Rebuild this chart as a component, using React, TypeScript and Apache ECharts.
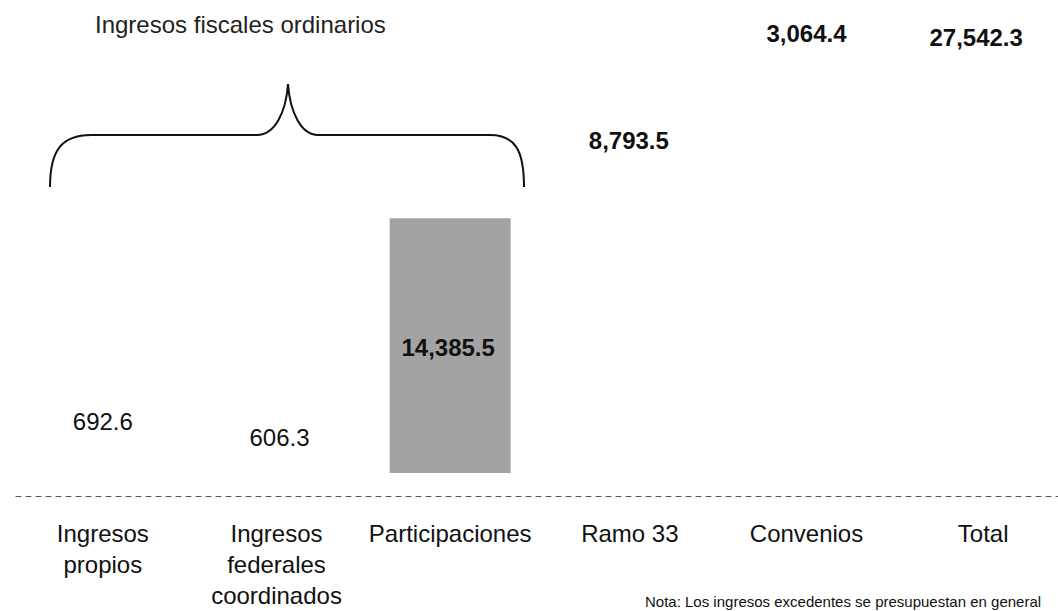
import React, { useEffect, useRef } from "react";
import * as echarts from "echarts";

const categories = [
  "Ingresos\npropios",
  "Ingresos\nfederales\ncoordinados",
  "Participaciones",
  "Ramo 33",
  "Convenios",
  "Total",
];
const values = [692.6, 606.3, 14385.5, 8793.5, 3064.4, 27542.3];
const isTotal = [false, false, false, false, false, true];
const valueLabels = ["692.6", "606.3", "14,385.5", "8,793.5", "3,064.4", "27,542.3"];
const titleText = "Ingresos fiscales ordinarios";
const noteText = "Nota: Los ingresos excedentes se presupuestan en general";

const BRACE_D =
  "M50,187 C50,150 62,135 91,135 L257,135 C275,135 286,112 288,84 C290,112 301,135 318,135 L490,135 C515,135 524,150 524,187";

let braceRegistered = false;

export default function App() {
  const ref = useRef<HTMLDivElement>(null);

  useEffect(() => {
    document.body.style.margin = "0";
    if (!braceRegistered) {
      echarts.graphic.registerShape("brace", echarts.graphic.extendPath(BRACE_D, {}) as any);
      braceRegistered = true;
    }
    const chart = echarts.init(ref.current!, null, { renderer: "svg" });

    // waterfall bases
    const bases: number[] = [];
    let run = 0;
    values.forEach((v, i) => {
      if (isTotal[i]) {
        bases.push(0);
      } else {
        bases.push(run);
        run += v;
      }
    });

    const barColors = ["#ffffff", "#ffffff", "#a3a3a3", "#ffffff", "#ffffff", "#ffffff"];
    const labelCfg: any[] = [
      { position: "inside", offset: [0, -68], fontWeight: "normal" },
      { position: "inside", offset: [3, -41], fontWeight: "normal" },
      { position: "inside", offset: [-2, 2], fontWeight: "bold" },
      { position: "inside", offset: [5, 0], fontWeight: "bold" },
      { position: "inside", offset: [9, -2], fontWeight: "bold" },
      { position: "insideTop", distance: 17, offset: [5, 0], fontWeight: "bold" },
    ];
    const axisPadLeft = [0, 0, 0, 12, 18, 24];

    chart.setOption({
      animation: false,
      backgroundColor: "#ffffff",
      grid: { left: 16, right: 0, top: -8, bottom: 109, containLabel: false },
      xAxis: {
        type: "category",
        data: categories.map((c, i) => ({
          value: c,
          textStyle: { padding: [0, 0, 0, axisPadLeft[i]] },
        })),
        axisTick: { show: false },
        axisLine: { show: true, lineStyle: { color: "#555", width: 1, type: [5, 5] } },
        axisLabel: {
          interval: 0,
          margin: 22,
          fontSize: 24,
          lineHeight: 31,
          color: "#111",
          fontFamily: "Liberation Sans, Arial, sans-serif",
        },
      },
      yAxis: {
        type: "value",
        min: 0,
        max: 28000,
        show: false,
        splitLine: { show: false },
      },
      series: [
        {
          type: "bar",
          stack: "wf",
          silent: true,
          itemStyle: { color: "transparent" },
          barWidth: 121,
          data: bases,
        },
        {
          type: "bar",
          stack: "wf",
          barWidth: 121,
          data: values.map((v, i) => ({
            value: v,
            itemStyle: { color: barColors[i] },
            label: {
              show: true,
              formatter: valueLabels[i],
              fontSize: 24,
              color: "#111",
              fontFamily: "Liberation Sans, Arial, sans-serif",
              ...labelCfg[i],
            },
          })),
        },
      ],
      graphic: [
        {
          type: "text",
          left: 95,
          top: 12,
          style: {
            text: titleText,
            fontSize: 24,
            fill: "#222",
            fontFamily: "Liberation Sans, Arial, sans-serif",
          },
        },
        {
          type: "brace",
          x: 0,
          y: 0,
          style: { stroke: "#111", lineWidth: 2, fill: null },
        },
        {
          type: "text",
          left: 645,
          top: 594,
          style: {
            text: noteText,
            fontSize: 15,
            fill: "#111",
            fontFamily: "Liberation Sans, Arial, sans-serif",
          },
        },
      ],
    });

    return () => chart.dispose();
  }, []);

  return <div ref={ref} style={{ width: 1058, height: 611 }} />;
}
